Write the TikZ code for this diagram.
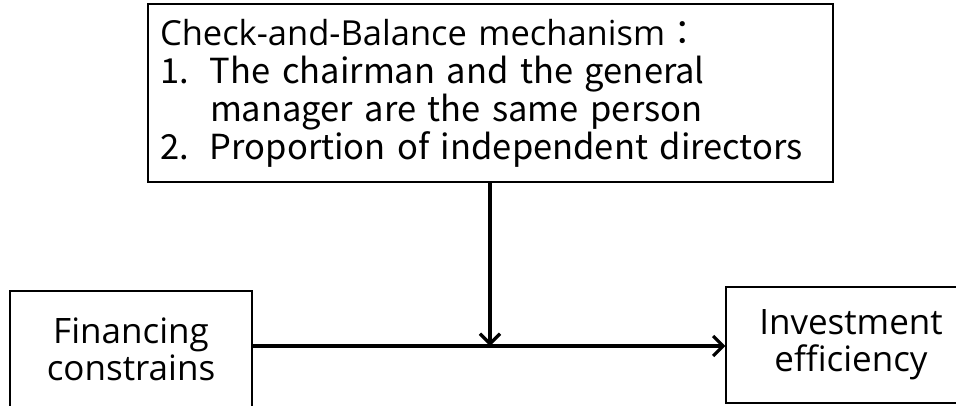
\documentclass[tikz,border=0pt]{standalone}
\usepackage{fontspec}
\setmainfont{Open Sans}
\newfontfamily\cjk{Noto Sans CJK TC}
\usetikzlibrary{arrows.meta,positioning}

\begin{document}
\begin{tikzpicture}[x=1pt, y=-1pt,
        box/.style={draw, line width=1.3pt, inner xsep=12pt, inner ysep=0pt,
                    align=center, font=\fontsize{35}{37}\selectfont},
        arr/.style={-{Straight Barb[length=10pt,width=20pt,line width=3.2pt]}, line width=3.2pt}]

        \useasboundingbox (0,0) rectangle (956,405);

        % Moderator box
        \node[box, align=left, text width=661pt, minimum height=178pt,
              font=\fontsize{34.5}{38}\selectfont] (mech) at (490.5,93)
            {Check-and-Balance mechanism\cjk{：}\\
             \makebox[50pt][l]{1.}The chairman and the general\\
             \hspace*{50pt}manager are the same person\\
             \makebox[50pt][l]{2.}Proportion of independent directors};

        % Variables
        \node[box, minimum width=242pt, minimum height=117pt] (fin) at (131,349.5)
            {Financing\\constrains};
        \node[box, minimum width=250pt, minimum height=116pt] (inv) at (851,345)
            {Investment\\efficiency};

        % Connectors
        \coordinate (j) at (490,346);
        \draw[arr] (fin.east |- j) -- (inv.west |- j);
        \draw[arr] (mech.south -| j) -- (j);

\end{tikzpicture}
\end{document}
